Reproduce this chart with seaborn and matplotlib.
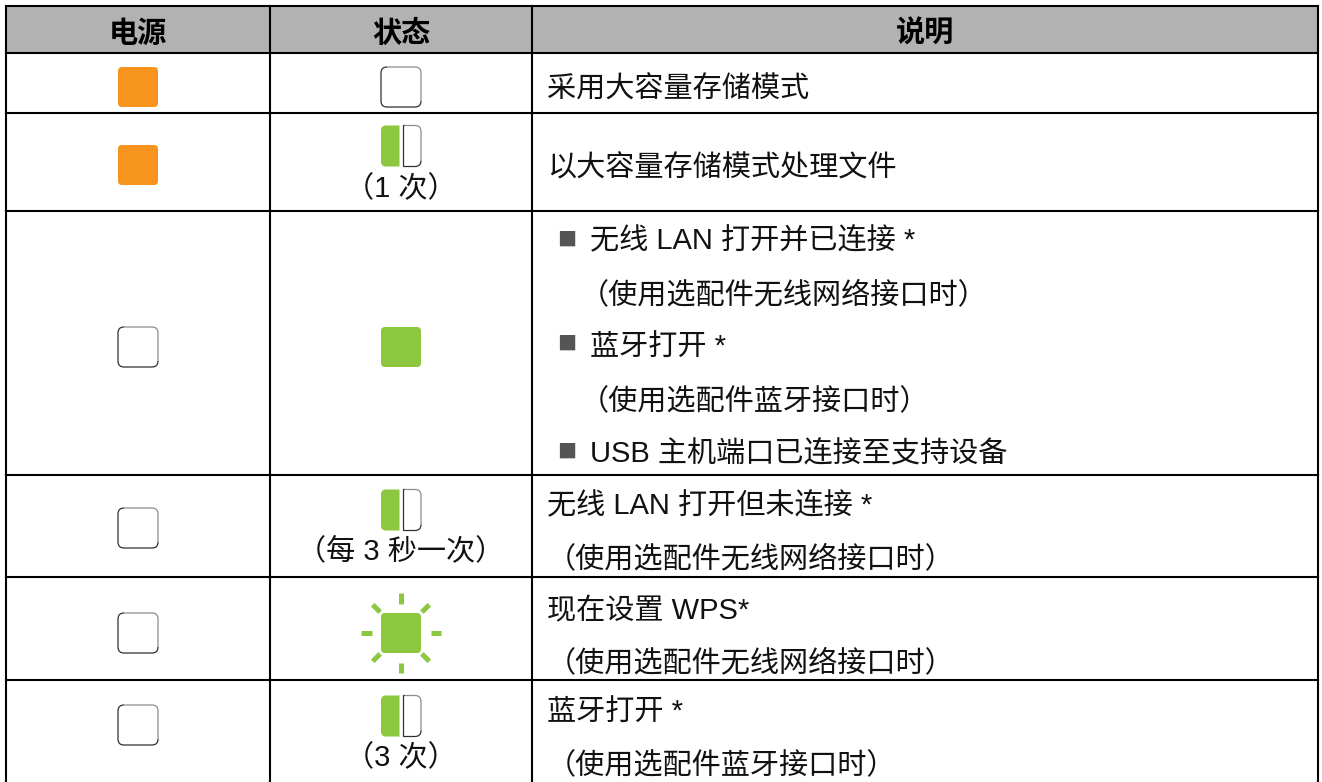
import matplotlib
matplotlib.use("Agg")
import matplotlib.pyplot as plt
import pandas as pd
import seaborn as sns
from matplotlib.path import Path
from matplotlib.patches import PathPatch, Rectangle
import numpy as np

# ---- content ----
headers = ["电源", "状态", "说明"]
power_state = ["orange", "orange", "off", "off", "off", "off"]
status_state = ["off", "blink", "green", "blink", "flash", "blink"]
status_caption = ["", "（1 次）", "", "（每 3 秒一次）", "", "（3 次）"]
desc_lines = [
    "采用大容量存储模式",
    "以大容量存储模式处理文件",
    "无线 LAN 打开并已连接 *",
    "（使用选配件无线网络接口时）",
    "蓝牙打开 *",
    "（使用选配件蓝牙接口时）",
    "USB 主机端口已连接至支持设备",
    "无线 LAN 打开但未连接 *",
    "（使用选配件无线网络接口时）",
    "现在设置 WPS*",
    "（使用选配件无线网络接口时）",
    "蓝牙打开 *",
    "（使用选配件蓝牙接口时）",
]
desc_bullet = [0, 0, 1, 0, 1, 0, 1, 0, 0, 0, 0, 0, 0]

# ---- layout (pixels) ----
col_x = [6, 270, 532, 1318]
row_y = [6, 53, 113, 211, 475, 577, 680, 782]
power_y = [87, 165, 347, 528, 633, 725]
status_y = [87, 146, 347, 510, 633, 716]
caption_y = [0, 186, 0, 548, 0, 755]
desc_y = [87, 165, 238, 292, 345, 399, 451, 503, 556, 608, 660, 710, 763]
desc_x = [547, 547, 590, 580, 590, 580, 590, 547, 547, 547, 547, 547, 547]
bullet_y = [0, 0, 238, 0, 342.5, 0, 450.5, 0, 0, 0, 0, 0, 0]
POWER_X, STATUS_X = 138, 401
LAMP = 40
COLORS = {"orange": "#f7941e", "green": "#8dc63f"}
FS = 21
TEXT_DY = 3
CJK = ["Liberation Sans", "Noto Sans CJK SC", "DejaVu Sans"]

sns.set_theme(style="white")
plt.rcParams["font.family"] = CJK

fig = plt.figure(figsize=(13.22, 7.82), dpi=100)
ax = fig.add_axes([0, 0, 1, 1])
ax.set_xlim(0, 1322)
ax.set_ylim(782, 0)
ax.axis("off")


def rounded(x0, y0, x1, y1, radii):
    """closed path; radii = (tl, tr, br, bl)"""
    tl, tr, br, bl = radii
    v = [(x0 + tl, y0), (x1 - tr, y0), (x1, y0), (x1, y0 + tr),
         (x1, y1 - br), (x1, y1), (x1 - br, y1),
         (x0 + bl, y1), (x0, y1), (x0, y1 - bl),
         (x0, y0 + tl), (x0, y0), (x0 + tl, y0), (x0 + tl, y0)]
    c = [Path.MOVETO, Path.LINETO, Path.CURVE3, Path.CURVE3,
         Path.LINETO, Path.CURVE3, Path.CURVE3,
         Path.LINETO, Path.CURVE3, Path.CURVE3,
         Path.LINETO, Path.CURVE3, Path.CURVE3, Path.CLOSEPOLY]
    return Path(v, c)


def outline(x0, y0, x1, y1, r, rl=True):
    """draw lamp outline: dark on left/bottom, grey on top/right"""
    l = r if rl else 0
    top_right = Path([(x0 + l, y0), (x1 - r, y0), (x1, y0), (x1, y0 + r), (x1, y1 - r)],
                     [Path.MOVETO, Path.LINETO, Path.CURVE3, Path.CURVE3, Path.LINETO])
    bottom_left = [(x1, y1 - r), (x1, y1), (x1 - r, y1), (x0 + l, y1)]
    bc = [Path.MOVETO, Path.CURVE3, Path.CURVE3, Path.LINETO]
    if rl:
        bottom_left += [(x0, y1), (x0, y1 - l), (x0, y0 + l), (x0, y0), (x0 + l, y0)]
        bc += [Path.CURVE3, Path.CURVE3, Path.LINETO, Path.CURVE3, Path.CURVE3]
    else:
        bottom_left += [(x0, y0), (x0 + 1, y0)]
        bc += [Path.LINETO, Path.LINETO]
    ax.add_patch(PathPatch(top_right, fill=False, ec="#8c8c8c", lw=0.9, zorder=4))
    ax.add_patch(PathPatch(Path(bottom_left, bc), fill=False, ec="#303030", lw=0.9, zorder=4))


# header band and grid
ax.add_patch(Rectangle((col_x[0], row_y[0]), col_x[-1] - col_x[0], row_y[1] - row_y[0],
                       fc="#b2b2b2", ec="none", zorder=0))
for x in col_x:
    ax.plot([x, x], [row_y[0], row_y[-1]], color="black", lw=1.5, zorder=5, solid_capstyle="projecting")
for y in row_y[:-1]:
    ax.plot([col_x[0], col_x[-1]], [y, y], color="black", lw=1.5, zorder=5, solid_capstyle="projecting")

# headers
for h, x in zip(headers, [POWER_X, STATUS_X, (col_x[2] + col_x[3]) / 2]):
    ax.text(x, 33, h, ha="center", va="center", fontsize=FS, fontweight="bold",
            family=["Noto Sans CJK SC"], color="black")

# solid lamps through seaborn, using a rounded-square marker
marker = rounded(-20, -20, 20, 20, (4, 4, 4, 4))
lamp_rows = []
for s, y in zip(power_state, power_y):
    if s in COLORS:
        lamp_rows.append(dict(x=POWER_X, y=y, state=s))
    else:
        outline(POWER_X - LAMP / 2, y - LAMP / 2, POWER_X + LAMP / 2, y + LAMP / 2, 6)
for s, y in zip(status_state, status_y):
    if s == "green" or s == "flash":
        lamp_rows.append(dict(x=STATUS_X, y=y, state="green"))
    elif s == "off":
        outline(STATUS_X - LAMP / 2, y - LAMP / 2, STATUS_X + LAMP / 2, y + LAMP / 2, 6)
lamps = pd.DataFrame(lamp_rows)
px = 72 / fig.dpi
sns.scatterplot(data=lamps, x="x", y="y", hue="state", palette=COLORS, marker=marker,
                s=(LAMP * px) ** 2, linewidth=0, legend=False, ax=ax, zorder=3)
ax.set_xlabel("")
ax.set_ylabel("")

# half lit lamps
for s, y in zip(status_state, status_y):
    if s == "blink":
        top, bot = y - 20.5, y + 20.5
        ax.add_patch(PathPatch(rounded(STATUS_X - 20, top, STATUS_X - 1.5, bot, (5, 0, 0, 5)),
                               fc=COLORS["green"], ec="none", zorder=3))
        outline(STATUS_X + 2.5, top, STATUS_X + 20, bot, 6, rl=False)
    if s == "flash":
        for a in np.arange(8) * np.pi / 4:
            r0, r1 = 29.5, 40
            ax.plot([STATUS_X + r0 * np.cos(a), STATUS_X + r1 * np.cos(a)],
                    [y + r0 * np.sin(a), y + r1 * np.sin(a)],
                    color=COLORS["green"], lw=3.6, solid_capstyle="butt", zorder=3)

# status captions
for c, y in zip(status_caption, caption_y):
    if c:
        ax.text(STATUS_X, y + TEXT_DY, c, ha="center", va="center", fontsize=FS, color="#111111")

# description
for t, x, y, b, by in zip(desc_lines, desc_x, desc_y, desc_bullet, bullet_y):
    ax.text(x, y + TEXT_DY, t, ha="left", va="center", fontsize=FS, color="#111111")
    if b:
        ax.text(566.5, by, "■", ha="center", va="center", fontsize=14.5, color="#555555",
                family=["DejaVu Sans"])

fig.savefig("out.png", dpi=100)
